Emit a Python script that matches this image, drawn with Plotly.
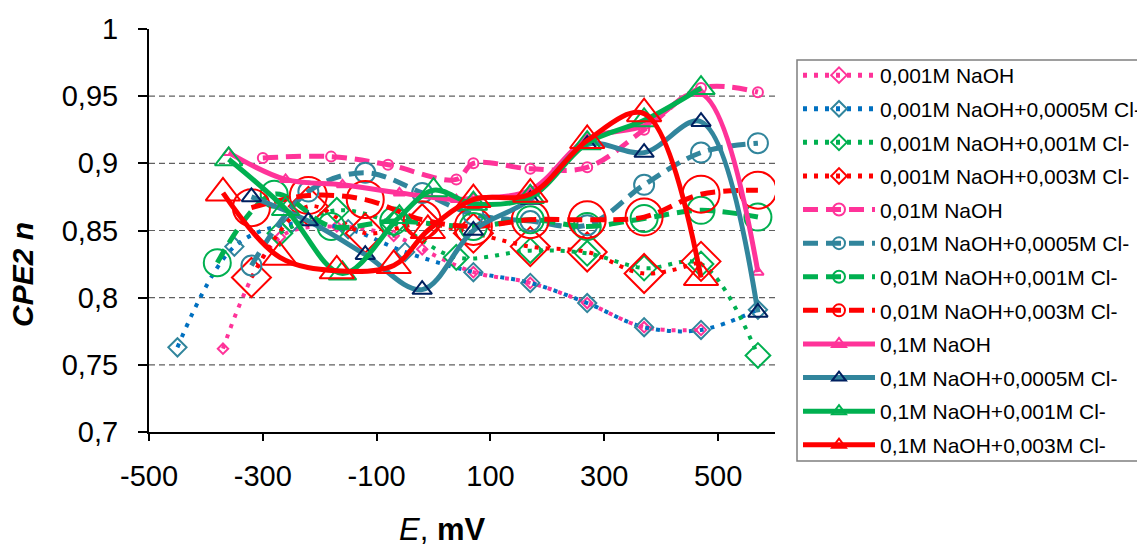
import plotly.graph_objects as go

# ---------------- data ----------------
names = [
    "0,001M NaOH",
    "0,001M NaOH+0,0005M Cl-",
    "0,001M NaOH+0,001M Cl-",
    "0,001M NaOH+0,003M Cl-",
    "0,01M NaOH",
    "0,01M NaOH+0,0005M Cl-",
    "0,01M NaOH+0,001M Cl-",
    "0,01M NaOH+0,003M Cl-",
    "0,1M NaOH",
    "0,1M NaOH+0,0005M Cl-",
    "0,1M NaOH+0,001M Cl-",
    "0,1M NaOH+0,003M Cl-",
]

e_001_naoh = [-370, -270, -170, -70, -20, 70, 170, 270, 370, 470]
n_001_naoh = [0.762, 0.845, 0.853, 0.846, 0.836, 0.819, 0.811, 0.796, 0.778, 0.776]

e_001_cl0005 = [-450, -350, -250, -150, -50, 70, 170, 270, 370, 470, 570]
n_001_cl0005 = [0.763, 0.838, 0.855, 0.851, 0.834, 0.819, 0.811, 0.796, 0.778, 0.776, 0.791]

e_001_cl001 = [-270, -170, -70, 40, 170, 270, 370, 470, 570]
n_001_cl001 = [0.848, 0.865, 0.855, 0.830, 0.835, 0.833, 0.822, 0.825, 0.757]

e_001_cl003 = [-320, -220, -120, -20, 70, 170, 270, 370, 470]
n_001_cl003 = [0.815, 0.868, 0.848, 0.855, 0.848, 0.838, 0.834, 0.818, 0.827]

e_01_naoh = [-300, -180, -80, 40, 70, 170, 270, 370, 470, 570]
n_01_naoh = [0.904, 0.905, 0.899, 0.888, 0.900, 0.896, 0.897, 0.925, 0.956, 0.953]

e_01_cl0005 = [-320, -220, -120, -20, 70, 170, 270, 370, 470, 570]
n_01_cl0005 = [0.824, 0.879, 0.893, 0.878, 0.862, 0.857, 0.854, 0.884, 0.908, 0.915]

e_01_cl001 = [-380, -280, -180, -70, 70, 170, 270, 370, 470, 570]
n_01_cl001 = [0.826, 0.877, 0.853, 0.857, 0.853, 0.858, 0.853, 0.859, 0.865, 0.860]

e_01_cl003 = [-320, -220, -120, -20, 70, 170, 270, 370, 470, 570]
n_01_cl003 = [0.867, 0.876, 0.873, 0.858, 0.853, 0.858, 0.858, 0.860, 0.877, 0.880]

e_1_naoh = [-360, -260, -160, -60, 40, 70, 170, 270, 370, 470, 570]
n_1_naoh = [0.908, 0.888, 0.884, 0.878, 0.873, 0.874, 0.880, 0.918, 0.928, 0.952, 0.819]

e_1_cl0005 = [-320, -220, -120, -20, 70, 170, 270, 370, 470, 570]
n_1_cl0005 = [0.875, 0.857, 0.832, 0.806, 0.850, 0.873, 0.914, 0.908, 0.931, 0.789]

e_1_cl001 = [-360, -260, -160, -60, 0, 70, 170, 270, 370, 470]
n_1_cl001 = [0.903, 0.866, 0.818, 0.860, 0.880, 0.870, 0.875, 0.915, 0.932, 0.956]

e_1_cl003 = [-370, -270, -170, -70, -10, 70, 170, 270, 370, 470]
n_1_cl003 = [0.878, 0.830, 0.820, 0.824, 0.850, 0.873, 0.877, 0.917, 0.937, 0.815]

x_tick_vals = [-500, -300, -100, 100, 300, 500]
x_tick_text = ["-500", "-300", "-100", "100", "300", "500"]
y_tick_vals = [0.7, 0.75, 0.8, 0.85, 0.9, 0.95, 1.0]
y_tick_text = ["0,7", "0,75", "0,8", "0,85", "0,9", "0,95", "1"]
grid_vals = [0.75, 0.8, 0.85, 0.9, 0.95]

# ---------------- styles ----------------
PINK = "#FF3399"
BLUE = "#0070C0"
TEAL = "#31859C"
GREEN = "#00B050"
RED = "#FF0000"
NAVY = "#002060"

DOT = "4px,7px"
DASH = "15px,8px"

series = [
    (e_001_naoh, n_001_naoh, PINK, DOT, 4, "diamond-open", 8, PINK),
    (e_001_cl0005, n_001_cl0005, BLUE, DOT, 4, "diamond-open", 14, TEAL),
    (e_001_cl001, n_001_cl001, GREEN, DOT, 4, "diamond-open", 19, GREEN),
    (e_001_cl003, n_001_cl003, RED, DOT, 4, "diamond-open", 30, RED),
    (e_01_naoh, n_01_naoh, PINK, DASH, 5, "circle-open", 10, PINK),
    (e_01_cl0005, n_01_cl0005, TEAL, DASH, 5, "circle-open", 20, TEAL),
    (e_01_cl001, n_01_cl001, GREEN, DASH, 5, "circle-open", 27, GREEN),
    (e_01_cl003, n_01_cl003, RED, DASH, 5, "circle-open", 37, RED),
    (e_1_naoh, n_1_naoh, PINK, "solid", 5, "triangle-up-open", 10, PINK),
    (e_1_cl0005, n_1_cl0005, TEAL, "solid", 5, "triangle-up-open", 17, NAVY),
    (e_1_cl001, n_1_cl001, GREEN, "solid", 5, "triangle-up-open", 24, GREEN),
    (e_1_cl003, n_1_cl003, RED, "solid", 5, "triangle-up-open", 30, RED),
]

FONT = "Liberation Sans, Arial, sans-serif"

# plot area in pixels
L, R, T, B = 149, 362, 29, 116
W, H = 1137, 548
PW, PH = W - L - R, H - T - B
ROW = 33.6


def px_x(px):
    return (px - L) / PW


def px_y(py):
    return (H - B - py) / PH


fig = go.Figure()
for i, (xs, ys, lc, dash, lw, sym, ms, mc) in enumerate(series):
    fig.add_trace(go.Scatter(
        x=xs, y=ys, name=names[i], mode="lines+markers",
        legend="legend" if i < 6 else "legend2",
        legendgroup=f"g{i}",
        line=dict(color=lc, dash=dash, width=lw, shape="spline", smoothing=1.0),
        marker=dict(symbol=sym, size=ms, color=mc, line=dict(width=2, color=mc)),
    ))

shapes = [
    dict(type="line", xref="paper", yref="y", x0=0, x1=1, y0=g, y1=g,
         line=dict(color="#606060", width=1.2, dash="6px,4px"), layer="below")
    for g in grid_vals
]
# legend frame
shapes.append(dict(type="rect", xref="paper", yref="paper",
                   x0=px_x(797), x1=px_x(1160), y0=px_y(461), y1=px_y(60),
                   line=dict(color="#7f7f7f", width=1.5), fillcolor="rgba(0,0,0,0)",
                   layer="above"))

leg_common = dict(
    xanchor="left", yanchor="top",
    borderwidth=0, bgcolor="rgba(0,0,0,0)",
    font=dict(size=21, family=FONT, color="black"),
    itemwidth=72, itemsizing="constant", tracegroupgap=ROW - 30.3,
    traceorder="grouped",
)

fig.update_layout(
    width=W, height=H,
    margin=dict(l=L, r=R, t=T, b=B, autoexpand=False),
    paper_bgcolor="white", plot_bgcolor="white",
    font=dict(family=FONT, color="black"),
    shapes=shapes,
    showlegend=True,
    legend=dict(x=px_x(798), y=px_y(55), **leg_common),
    legend2=dict(x=px_x(798), y=px_y(55 + 6 * ROW), **leg_common),
    xaxis=dict(
        range=[-500, 600], tickvals=x_tick_vals, ticktext=x_tick_text,
        showline=True, linecolor="black", linewidth=2,
        ticks="outside", ticklen=7, tickwidth=2, tickcolor="black",
        showgrid=False, zeroline=False,
        tickfont=dict(size=29, family=FONT, color="black"),
        ticklabelstandoff=10,
    ),
    yaxis=dict(
        range=[0.7, 1.0], tickvals=y_tick_vals, ticktext=y_tick_text,
        showline=True, linecolor="black", linewidth=2,
        ticks="outside", ticklen=9, tickwidth=2, tickcolor="black",
        showgrid=False, zeroline=False,
        tickfont=dict(size=29, family=FONT, color="black"),
        ticklabelstandoff=14,
    ),
    annotations=[
        dict(text="<b><i>CPE2 n</i></b>", xref="paper", yref="paper",
             x=px_x(22), y=px_y(275), textangle=-90, showarrow=False,
             xanchor="center", yanchor="middle",
             font=dict(size=30, family=FONT, color="black")),
        dict(text="<i>E</i>, <b>mV</b>", xref="paper", yref="paper",
             x=px_x(442), y=px_y(529), showarrow=False,
             xanchor="center", yanchor="middle",
             font=dict(size=31, family=FONT, color="black")),
    ],
)

fig.write_html("out.html")
